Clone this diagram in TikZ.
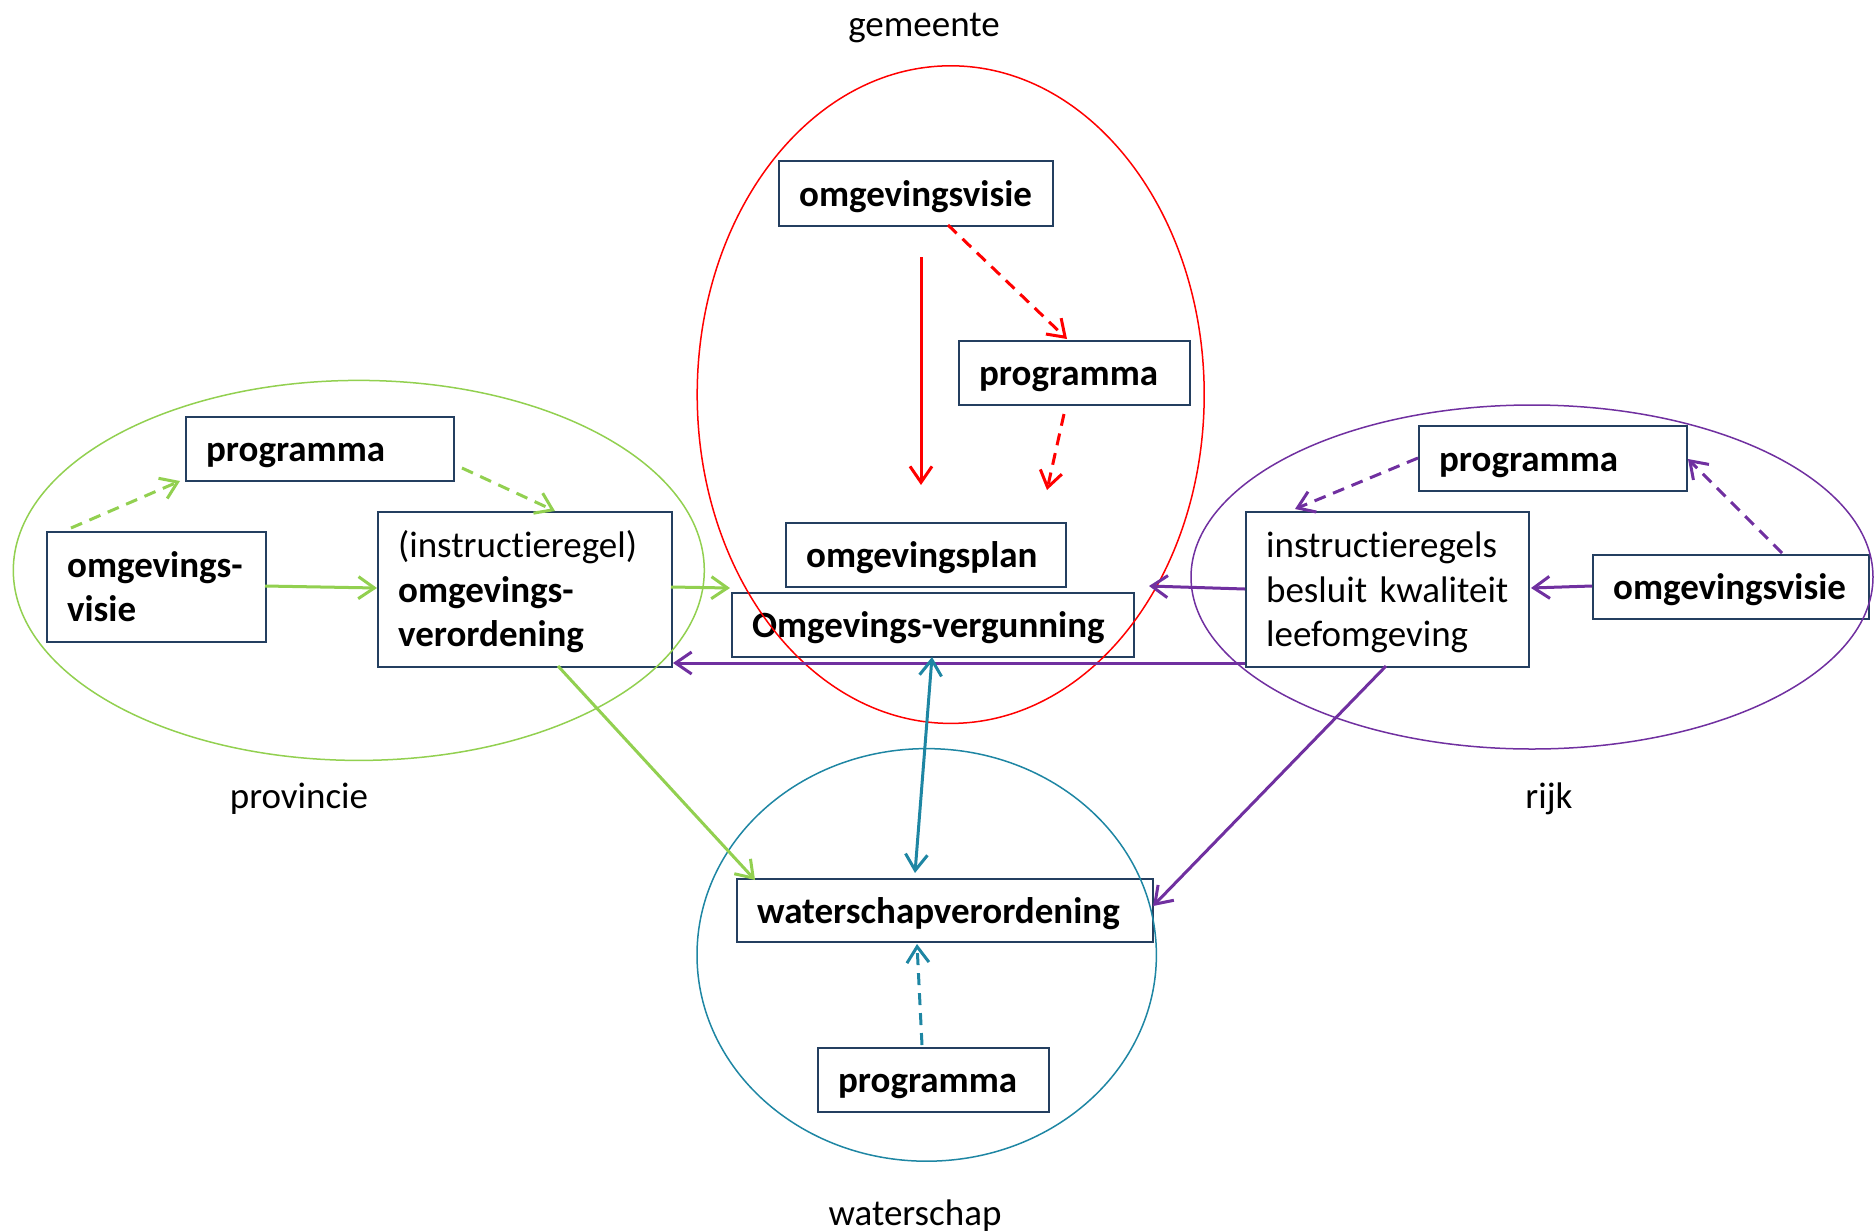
\documentclass[tikz,border=0pt]{standalone}
\usepackage{fontspec}
\setmainfont{Carlito}[Ligatures={NoCommon}]
\usetikzlibrary{arrows.meta,calc}
\definecolor{grc}{HTML}{92D050}
\definecolor{redc}{HTML}{FF0000}
\definecolor{puc}{HTML}{7030A0}
\definecolor{tec}{HTML}{1E86A3}
\definecolor{boxc}{HTML}{243F60}
\hyphenpenalty=10000
\newcommand\myTop{\rule{0pt}{0.952em}}
\newcommand\myBot{\rule[-0.269em]{0pt}{0pt}}
\begin{document}
\begin{tikzpicture}[x=1pt,y=-1pt,
  box/.style={draw=boxc, line width=2.2pt, anchor=north west, inner xsep=20pt, inner ysep=0pt,
    align=left, font={\fontsize{37}{44.5}\selectfont\hyphenpenalty=10000},
    execute at begin node={\rightskip=0pt plus 1fil\myTop}, execute at end node=\myBot},
  lab/.style={font={\fontsize{37}{44.5}\selectfont},
    execute at begin node=\myTop, execute at end node=\myBot},
  region/.style={line width=1.5pt},
  arr/.style={line width=3pt, -{Straight Barb[length=16pt,width=22pt]}},
  darr/.style={line width=3pt, {Straight Barb[length=16pt,width=22pt]}-{Straight Barb[length=16pt,width=22pt]}},
  dsh/.style={dash pattern=on 12pt off 8pt}]
\useasboundingbox (0,0) rectangle (1875,1232);

% gemeente
\node[box, text width=234pt, minimum height=65pt] (gv) at (778,160) {\textbf{omgevingsvisie}};
\node[box, text width=191pt, minimum height=64pt] (gp) at (958,340) {\textbf{programma}};
\node[box, text width=240pt, minimum height=64pt] (plan) at (785,522) {\textbf{omgevingsplan}};
\node[box, text width=362pt, minimum height=64pt] (verg) at (731,592) {\textbf{Omgevings-vergunning}};

% provincie
\node[box, text width=228pt, minimum height=64pt] (gprog) at (185,416) {\textbf{programma}};
\node[box, text width=179pt, minimum height=110pt] (gvisie) at (46,531) {\textbf{omgevings-}\\\textbf{visie}};
\node[box, text width=254pt, minimum height=155pt] (ginstr) at (377,511) {(instructieregel)\\\textbf{omgevings-}\\\textbf{verordening}};

% rijk
\node[box, text width=228pt, minimum height=65pt] (pprog) at (1418,425) {\textbf{programma}};
\node[box, text width=243pt, minimum height=155pt] (pinstr) at (1245,511) {instructieregels\\besluit kwaliteit\\leefomgeving};
\node[box, text width=236pt, minimum height=64pt] (pvisie) at (1592,554) {\textbf{omgevingsvisie}};

% waterschap
\node[box, text width=376pt, minimum height=63pt] (wv) at (736,878) {\textbf{waterschapverordening}};
\node[box, text width=191pt, minimum height=64pt] (wp) at (817,1047) {\textbf{programma}};

% regions
\draw[region, redc] (950.7,394.6) ellipse [x radius=253.5pt, y radius=328.8pt];
\draw[region, grc] (358.8,570.4) ellipse [x radius=345.5pt, y radius=190pt];
\draw[region, puc] (1532,577) ellipse [x radius=341pt, y radius=172pt];
\draw[region, tec] (926.7,954.9) ellipse [x radius=229.7pt, y radius=206.3pt];

% labels
\node[lab] (lgem) at (924,24) {gemeente};
\node[lab] (lprov) at (299,796) {provincie};
\node[lab] (lrijk) at (1549,796) {rijk};
\node[lab] (lwat) at (915,1213) {waterschap};

% gemeente connectors
\draw[redc, arr] ($(gv.north west)+(143,97)$) -- ($(plan.north west)+(136,-37)$);
\draw[redc, arr, dsh] ($(gv.north west)+(170,65)$) -- ($(gp.north west)+(109,-1)$);
\draw[redc, arr, dsh] ($(gp.north west)+(106,74)$) -- ($(plan.north west)+(262,-32)$);

% provincie connectors
\draw[grc, arr, dsh] ($(gvisie.north west)+(25,-3)$) -- ($(gprog.north west)+(-5,65)$);
\draw[grc, arr, dsh] ($(gprog.north west)+(277,52)$) -- ($(ginstr.north west)+(178,0)$);
\draw[grc, arr] ($(gvisie.north west)+(219,55)$) -- ($(ginstr.north west)+(0,77)$);
\draw[grc, arr] ($(ginstr.north west)+(294,76)$) -- ($(verg.north west)+(-1,-4)$);
\draw[grc, arr] ($(ginstr.north west)+(181,155)$) -- ($(wv.north west)+(19,2)$);

% rijk connectors
\draw[puc, arr] ($(pinstr.north west)+(0,78)$) -- ($(verg.north west)+(418,-6)$);
\draw[puc, arr] ($(pinstr.north west)+(0,152)$) -- ($(ginstr.north west)+(296,152)$);
\draw[puc, arr] ($(pinstr.north west)+(141,155)$) -- ($(wv.north west)+(417,28)$);
\draw[puc, arr, dsh] ($(pprog.north west)+(0,33)$) -- ($(pinstr.north west)+(50,-2)$);
\draw[puc, arr, dsh] ($(pvisie.north west)+(190,-1)$) -- ($(pprog.north west)+(270,34)$);
\draw[puc, arr] ($(pvisie.north west)+(0,32)$) -- ($(pinstr.north west)+(286,77)$);

% waterschap connectors
\draw[tec, darr] ($(verg.north west)+(201,65)$) -- ($(wv.north west)+(179,-5)$);
\draw[tec, arr, dsh] ($(wp.north west)+(105,-2)$) -- ($(wv.north west)+(181,66)$);
\end{tikzpicture}
\end{document}
